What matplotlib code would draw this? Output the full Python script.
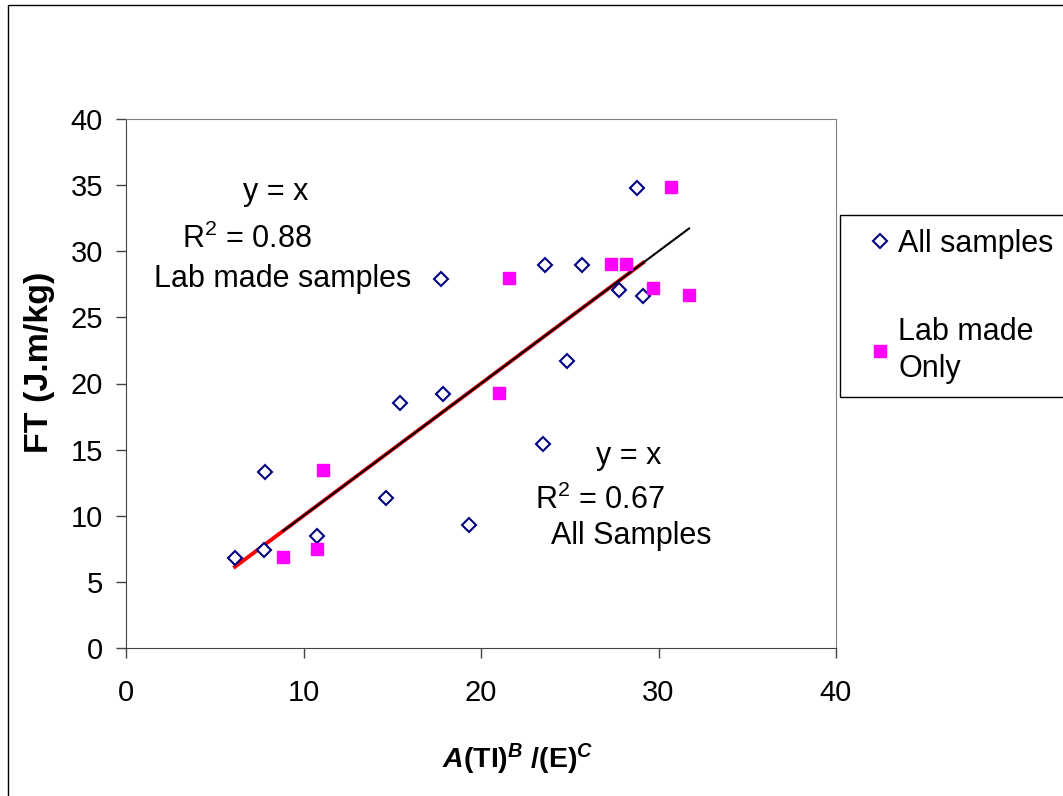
import matplotlib
matplotlib.use("Agg")
import matplotlib.pyplot as plt
import numpy as np
from matplotlib.patches import Rectangle

plt.rcParams['font.family'] = ['Liberation Sans', 'DejaVu Sans']
plt.rcParams['mathtext.fontset'] = 'custom'
plt.rcParams['mathtext.rm'] = 'Liberation Sans'
plt.rcParams['mathtext.it'] = 'Liberation Sans:italic'
plt.rcParams['mathtext.bf'] = 'Liberation Sans:bold'
plt.rcParams['mathtext.bfit'] = 'Liberation Sans:italic:bold'

# all samples (diamonds)
all_x = [6.14, 7.77, 7.83, 10.76, 14.65, 15.44, 17.73, 17.84, 19.31, 23.48,
         23.61, 24.83, 25.69, 27.77, 28.79, 29.13]
all_y = [6.81, 7.41, 13.31, 8.47, 11.36, 18.55, 27.88, 19.21, 9.30, 15.43,
         28.96, 21.72, 28.96, 27.07, 34.78, 26.62]
# lab made only (squares)
lab_x = [8.85, 10.76, 11.10, 21.01, 21.56, 27.32, 28.17, 29.69, 30.70, 31.72]
lab_y = [6.88, 7.49, 13.46, 19.30, 27.95, 29.04, 29.04, 27.22, 34.86, 26.69]

fig = plt.figure(figsize=(10.63, 7.96), dpi=100)
# outer chart border
fig.patches.append(Rectangle((8/1063, -0.1), 1.2, 1 - 5/796 + 0.1,
                             transform=fig.transFigure, fill=False,
                             edgecolor='black', lw=1.0))

ax = fig.add_axes([126/1063, 1 - 648/796, 710/1063, 529/796])

# trendlines y = x over each series' range
xa = np.array([min(all_x), max(all_x)])
xl = np.array([min(lab_x), max(lab_x)])
ax.plot(xa, xa, color='red', lw=2.8, zorder=2)
ax.plot(xl, xl, color='black', lw=1.5, zorder=3)

ax.plot(all_x, all_y, ls='none', marker='D', ms=7, mfc='white', mec='#000080',
        mew=1.5, label='All samples', zorder=4)
ax.plot(lab_x, lab_y, ls='none', marker='s', ms=8.5, mfc='#FF00FF', mec='#FF00FF',
        label='Lab made\nOnly', zorder=4)

ax.set_xlim(0, 40)
ax.set_ylim(0, 40)
ax.set_xticks([0, 10, 20, 30, 40])
ax.set_yticks(range(0, 41, 5))
ax.tick_params(direction='out', length=7.5, width=1, colors='#444444',
               labelsize=21, labelcolor='black')
ax.tick_params(axis='x', pad=15)
ax.tick_params(axis='y', pad=9)
for s in ['left', 'bottom']:
    ax.spines[s].set_color('#444444')
for s in ['top', 'right']:
    ax.spines[s].set_color('#808080')

ax.text(8.45, 34.5, 'y = x', fontsize=22, ha='center', va='center')
ax.text(6.82, 30.9, 'R$^2$ = 0.88', fontsize=22, ha='center', va='center')
ax.text(8.85, 27.9, 'Lab made samples', fontsize=22, ha='center', va='center')
ax.text(28.34, 14.5, 'y = x', fontsize=22, ha='center', va='center')
ax.text(26.7, 11.2, 'R$^2$ = 0.67', fontsize=22, ha='center', va='center')
ax.text(28.45, 8.5, 'All Samples', fontsize=22, ha='center', va='center')

fig.text(40/1063, 1 - 362/796, 'FT (J.m/kg)', rotation=90, fontsize=24.5,
         fontweight='bold', ha='center', va='center')
fig.text(518/1063, 1 - 768/796,
         r'$\mathbfit{A}\mathbf{(TI)}^{\mathbfit{B}}\ \mathbf{/(E)}^{\mathbfit{C}}$',
         fontsize=20.5, ha='center', va='baseline')

leg = ax.legend(loc='upper left', bbox_to_anchor=(840/1063, 1 - 215/796),
                bbox_transform=fig.transFigure, borderaxespad=0, fontsize=22,
                frameon=True, fancybox=False, framealpha=1, edgecolor='black',
                borderpad=0.45, handlelength=1.7, handletextpad=-0.25,
                labelspacing=1.9)
leg.get_frame().set_linewidth(1.0)
for t in leg.get_texts():
    t.set_linespacing(1.3)

fig.savefig('out.png', dpi=100)
